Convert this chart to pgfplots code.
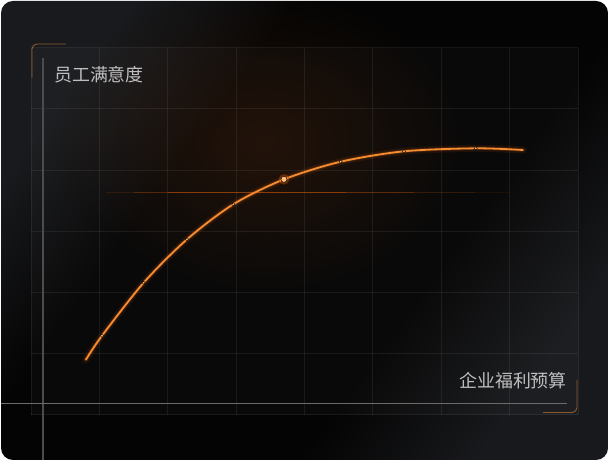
\documentclass[border=0pt]{standalone}
\usepackage{pgfplots}
\pgfplotsset{compat=1.18}
\usepackage{fontspec}
\newfontfamily\cjk{Noto Sans CJK SC}
\usetikzlibrary{fadings}

\definecolor{cardtl}{RGB}{25,26,29}
\definecolor{cardmid}{RGB}{4,4,4}
\definecolor{cardbr}{RGB}{24,25,28}
\definecolor{glow}{RGB}{255,110,20}
\definecolor{curve}{RGB}{245,140,50}
\definecolor{dotc}{RGB}{255,190,120}
\definecolor{bracket}{RGB}{140,90,50}
\definecolor{labelc}{RGB}{190,190,192}
\definecolor{refline}{RGB}{210,90,10}

\pgfdeclarehorizontalshading{cardshade}{100bp}{color(0bp)=(cardtl); color(25bp)=(cardtl); color(37bp)=(cardmid); color(62bp)=(cardmid); color(75bp)=(cardbr); color(100bp)=(cardbr)}
\tikzfading[name=soft glow, inner color=transparent!0, outer color=transparent!100]

% curve points (grid units)
\pgfplotstableread{
x y
0.80 0.894
1.038 1.291
1.648 2.158
2.282 2.867
2.959 3.440
3.700 3.848
4.529 4.136
5.455 4.306
6.504 4.355
7.200 4.327
}\curvedata

\pgfplotstableread{
x y
1.038 1.291
1.648 2.158
2.282 2.867
2.959 3.440
4.529 4.136
5.455 4.306
6.504 4.355
}\dotdata

\begin{document}
\begin{tikzpicture}[x=1bp,y=1bp]
\useasboundingbox (0,0) rectangle (609,462);
\fill[white] (0,0) rectangle (609,462);
\begin{scope}
\clip[rounded corners=12bp] (1,2) rectangle (608,461);
\shade[shading=cardshade, shading angle=-36] (1,2) rectangle (608,461);
\fill[white, opacity=0.025] (31,47.3) rectangle (578,414.3);
\fill[glow, path fading=soft glow, opacity=0.10] (265,320) ellipse (210 and 160);
\end{scope}

% corner brackets
\draw[bracket, line width=0.9bp, rounded corners=5bp] (32,384) -- (32,418) -- (66,418);
\draw[bracket, line width=0.9bp, rounded corners=5bp] (577,82) -- (577,49.5) -- (543,49.5);

\begin{axis}[
  at={(31bp,47.3bp)}, anchor=origin,
  scale only axis, width=547bp, height=367bp,
  xmin=0, xmax=8, ymin=0, ymax=6,
  xtick={0,...,8}, ytick={0,...,6},
  xticklabels={}, yticklabels={},
  grid=major,
  grid style={white, opacity=0.07, line width=0.8bp},
  axis line style={draw=none},
  tick style={draw=none},
  clip=false,
]
% reference line, fading at both ends
\addplot[refline, line width=0.9bp, opacity=0.15] coordinates {(1.1,3.636) (1.5,3.636)};
\addplot[refline, line width=0.9bp, opacity=0.35] coordinates {(1.5,3.636) (2.0,3.636)};
\addplot[refline, line width=0.9bp, opacity=0.6] coordinates {(2.0,3.636) (4.6,3.636)};
\addplot[refline, line width=0.9bp, opacity=0.4] coordinates {(4.6,3.636) (5.6,3.636)};
\addplot[refline, line width=0.9bp, opacity=0.2] coordinates {(5.6,3.636) (6.5,3.636)};
\addplot[refline, line width=0.9bp, opacity=0.08] coordinates {(6.5,3.636) (7.0,3.636)};
% glow under curve
\addplot[glow, line width=7bp, opacity=0.08, smooth, line cap=round] table {\curvedata};
\addplot[glow, line width=3.5bp, opacity=0.18, smooth, line cap=round] table {\curvedata};
\addplot[curve, line width=1.8bp, smooth] table {\curvedata};
% small points
\addplot[only marks, mark=*, mark size=1.6bp, mark options={draw=none, fill=dotc}] table {\dotdata};
% highlighted point
\addplot[only marks, mark=*, mark size=5.5bp, mark options={draw=none, fill=glow, opacity=0.3}] coordinates {(3.700,3.848)};
\addplot[only marks, mark=*, mark size=3bp, mark options={draw=none, fill=dotc}] coordinates {(3.700,3.848)};
\end{axis}

% axis lines
\draw[white!30!black, line width=1.3bp] (43,2) -- (43,404);
\draw[white!42!black, line width=1bp] (1,58) -- (567,58);

% labels
\node[anchor=west, text=labelc, font=\cjk\fontsize{18}{20}\selectfont, inner sep=0pt] at (54,387) {员工满意度};
\node[anchor=east, text=labelc, font=\cjk\fontsize{18}{20}\selectfont, inner sep=0pt] at (567,81) {企业福利预算};
\end{tikzpicture}
\end{document}
